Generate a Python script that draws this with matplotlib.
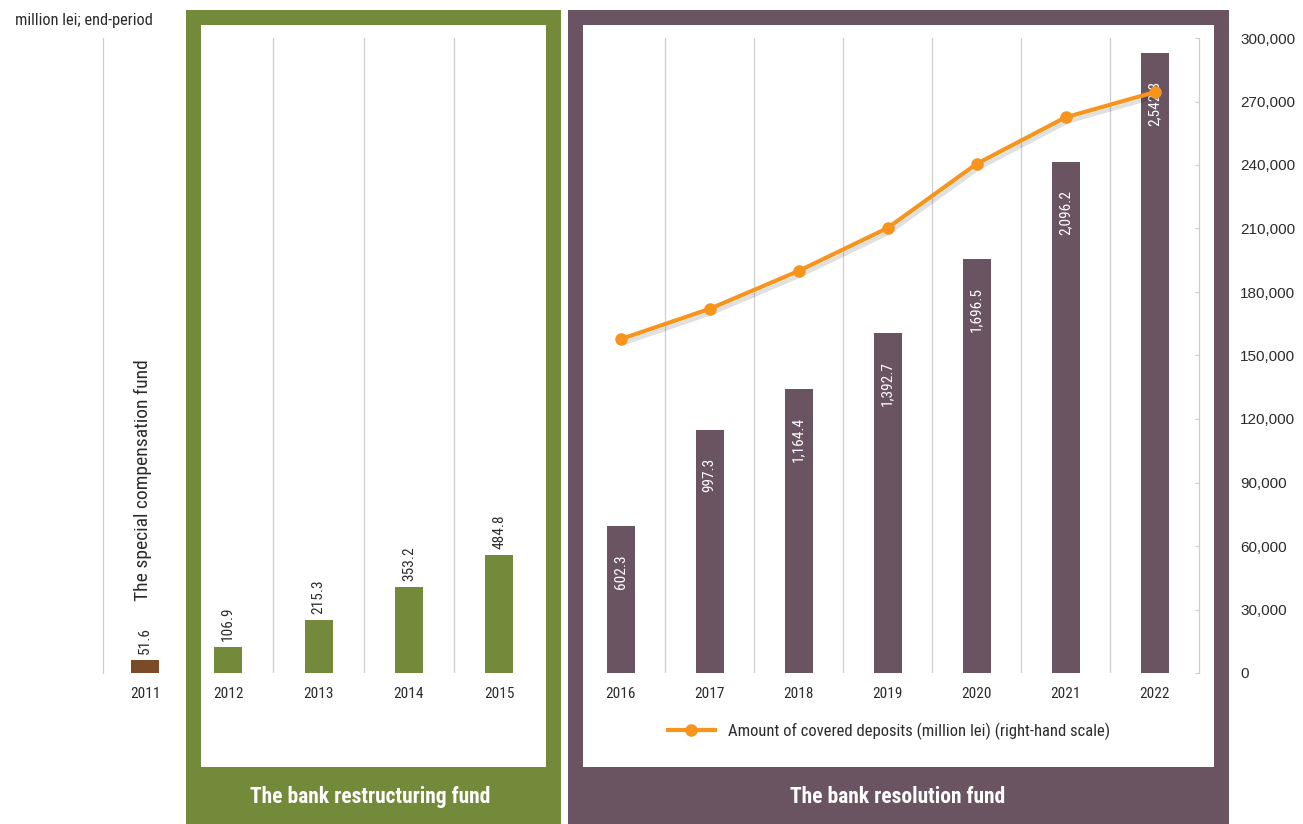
import os
import numpy as np
import matplotlib
matplotlib.use("Agg")
import matplotlib.pyplot as plt
from matplotlib import font_manager as fm
from matplotlib.font_manager import FontProperties
from matplotlib.patches import Rectangle
from matplotlib.lines import Line2D
import matplotlib.patheffects as pe

# ---------------- data ----------------
years_special = ["2011"]
values_special = [51.6]

years_restruct = ["2012", "2013", "2014", "2015"]
values_restruct = [106.9, 215.3, 353.2, 484.8]

years_resol = ["2016", "2017", "2018", "2019", "2020", "2021", "2022"]
values_resol = [602.3, 997.3, 1164.4, 1392.7, 1696.5, 2096.2, 2542.8]
covered_deposits = [157700, 172000, 189900, 210200, 240500, 262500, 274400]

right_ticks = [0, 30000, 60000, 90000, 120000, 150000, 180000, 210000, 240000, 270000, 300000]

# ---------------- fonts ----------------
files = [f.fname for f in fm.fontManager.ttflist]
names = {f.name for f in fm.fontManager.ttflist}

def find_file(keys):
    for k in keys:
        for fn in files:
            if os.path.basename(fn).lower() == k.lower():
                return fn
    return None

narrow_file = find_file(["LiberationSansNarrow-Regular.ttf", "RobotoCondensed-Regular.ttf",
                         "DejaVuSansCondensed.ttf", "OpenSansCondensed-Regular.ttf"])
narrow_bold_file = find_file(["LiberationSansNarrow-Bold.ttf", "RobotoCondensed-Bold.ttf",
                              "DejaVuSansCondensed-Bold.ttf", "OpenSansCondensed-Bold.ttf"])

def NFP(size, bold=False):
    fn = narrow_bold_file if bold else narrow_file
    if fn:
        return FontProperties(fname=fn, size=size)
    fam = "Liberation Sans" if "Liberation Sans" in names else "DejaVu Sans"
    return FontProperties(family=fam, size=size * 0.92, weight="bold" if bold else "normal")

REG = "Liberation Sans" if "Liberation Sans" in names else "DejaVu Sans"

GREEN = "#738A3A"
PURPLE = "#6B5462"
BROWN = "#7B4B27"
ORANGE = "#F7941D"
GRID = "#CFCFCF"
TXT = "#2B2B2B"

W, H = 1303, 824
fig = plt.figure(figsize=(W / 100, H / 100), dpi=100)

def fx(px):
    return px / W

def fy(py):
    return (H - py) / H

AX_TOP, AX_BOT = 38, 673
LEFT_MAX = 2604
BAR_PX = 28

def make_ax(x0, x1):
    ax = fig.add_axes([fx(x0), fy(AX_BOT), fx(x1 - x0), (AX_BOT - AX_TOP) / H])
    ax.set_ylim(0, LEFT_MAX)
    ax.set_yticks([])
    for s in ["top", "bottom", "left", "right"]:
        ax.spines[s].set_visible(False)
    ax.tick_params(axis="x", length=0, pad=10)
    return ax

def style_group(ax, years, values, color, px_w, inside):
    n = len(years)
    x = np.arange(n)
    ax.set_xlim(-0.5, n - 0.5)
    width = BAR_PX / (px_w / n)
    ax.bar(x, values, width=width, color=color, zorder=2)
    ax.set_xticks(x)
    ax.set_xticklabels(years, color=TXT)
    for lab in ax.get_xticklabels():
        lab.set_fontproperties(NFP(11))
    ax.set_xticks(np.arange(0.5, n - 0.5), minor=True)
    ax.tick_params(axis="x", which="minor", length=0)
    ax.grid(axis="x", which="minor", color=GRID, lw=0.9)
    for xi, v in zip(x, values):
        lab = f"{v:,.1f}"
        if inside:
            ax.annotate(lab, (xi, v), xytext=(0, -20), textcoords="offset points",
                        rotation=90, ha="center", va="top", color="white",
                        fontproperties=NFP(11), zorder=3)
        else:
            ax.annotate(lab, (xi, v), xytext=(0, 4.5), textcoords="offset points",
                        rotation=90, ha="center", va="bottom", color=TXT,
                        fontproperties=NFP(11), zorder=3)

# group 1: special compensation fund
a1x0, a1x1 = 102.7, 187.5
ax1 = make_ax(a1x0, a1x1)
style_group(ax1, years_special, values_special, BROWN, a1x1 - a1x0, inside=False)
for s in ["left", "right"]:
    ax1.spines[s].set_visible(True)
    ax1.spines[s].set_color(GRID)
    ax1.spines[s].set_linewidth(0.9)

# group 2: restructuring fund
a2x0, a2x1 = 183, 544.5
ax2 = make_ax(a2x0, a2x1)
style_group(ax2, years_restruct, values_restruct, GREEN, a2x1 - a2x0, inside=False)

# group 3: resolution fund
a3x0, a3x1 = 576, 1199
ax3 = make_ax(a3x0, a3x1)
style_group(ax3, years_resol, values_resol, PURPLE, a3x1 - a3x0, inside=True)

ax3r = ax3.twinx()
ax3r.set_ylim(0, 300000)
ax3r.set_yticks(right_ticks)
ax3r.set_yticklabels([f"{t:,}" for t in right_ticks], family=REG, fontsize=11, color=TXT)
for s in ["top", "bottom", "left"]:
    ax3r.spines[s].set_visible(False)
ax3r.spines["right"].set_color(GRID)
ax3r.spines["right"].set_linewidth(0.9)
ax3r.tick_params(axis="y", direction="in", length=3, color=GRID, pad=29.5)
for lab in ax3r.get_yticklabels():
    lab.set_horizontalalignment("left")

xr = np.arange(len(years_resol))
ax3r.plot(xr, covered_deposits, color=ORANGE, lw=3, zorder=4, solid_capstyle="round",
          path_effects=[pe.SimpleLineShadow(offset=(1.5, -3), shadow_color="black", alpha=0.12),
                        pe.Normal()])
ax3r.plot(xr, covered_deposits, linestyle="none", marker="o", ms=8, color=ORANGE, zorder=5)

handle = Line2D([], [], color=ORANGE, lw=3, marker="o", ms=8)
fig.legend([handle], ["Amount of covered deposits (million lei) (right-hand scale)"],
           loc="center", bbox_to_anchor=(fx(889), fy(731)), frameon=False,
           prop=NFP(12), handlelength=2.8, handletextpad=0.8,
           labelcolor=TXT)

# ---------------- frames ----------------
def box(x0, x1, color):
    t = 15
    rects = [
        (x0, 10, x1 - x0, t),          # top
        (x0, 10, t, H - 10),           # left
        (x1 - t, 10, t, H - 10),       # right
        (x0, 767, x1 - x0, H - 767),   # bottom band
    ]
    for (rx, ry, rw, rh) in rects:
        fig.patches.append(Rectangle((fx(rx), fy(ry + rh)), fx(rw), rh / H,
                                     transform=fig.transFigure, color=color, lw=0, zorder=5))

box(186, 561, GREEN)
box(568, 1229, PURPLE)

fig.text(fx(370), fy(797), "The bank restructuring fund", ha="center", va="center",
         color="white", fontproperties=NFP(15.5, bold=True), zorder=6)
fig.text(fx(898), fy(797), "The bank resolution fund", ha="center", va="center",
         color="white", fontproperties=NFP(15.5, bold=True), zorder=6)

fig.text(fx(143), fy(480), "The special compensation fund", rotation=90, ha="center",
         va="center", color=TXT, fontproperties=NFP(14))
fig.text(fx(15), fy(21), "million lei; end-period", ha="left", va="center",
         color=TXT, fontproperties=NFP(11.8))

fig.savefig("out.png", dpi=100)
